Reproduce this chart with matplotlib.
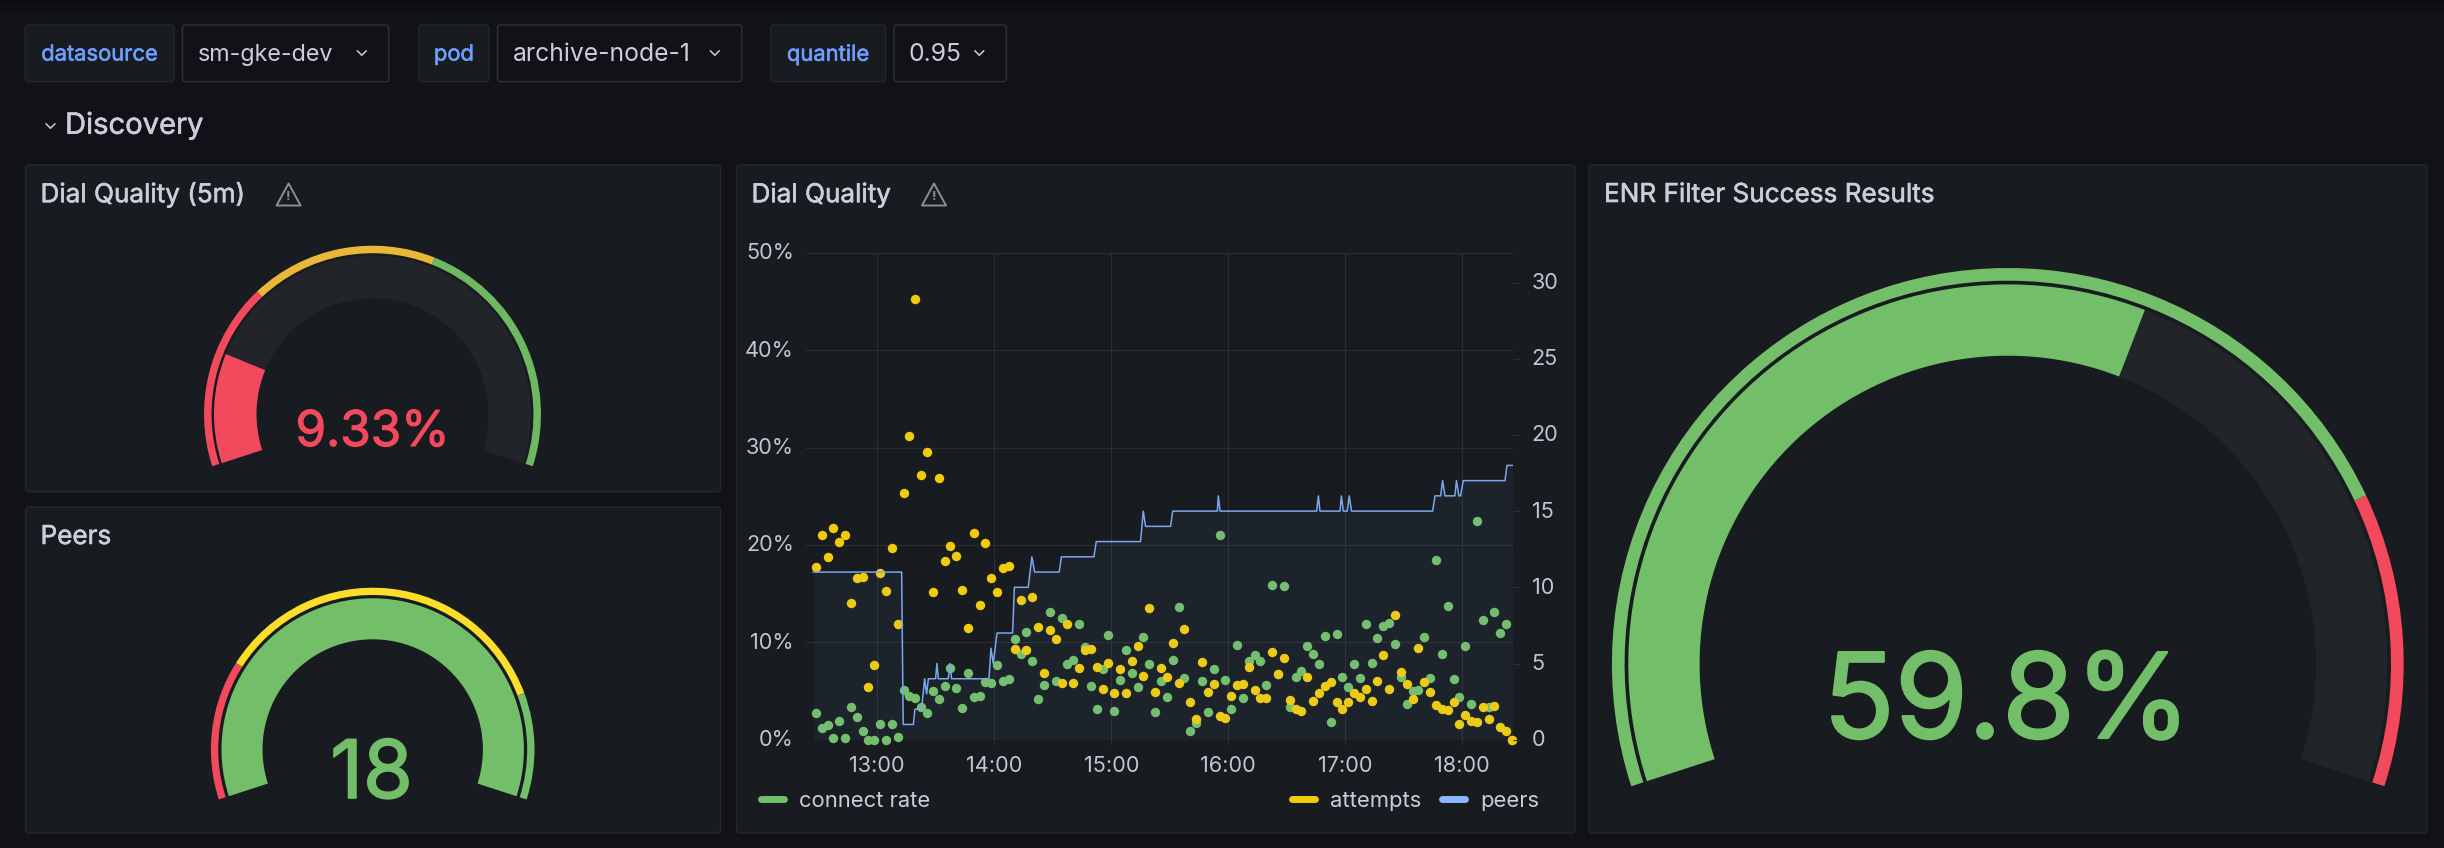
import numpy as np
import matplotlib
matplotlib.use("Agg")
import matplotlib.pyplot as plt
import matplotlib.patheffects as pe
from matplotlib.patches import Wedge, FancyBboxPatch, Polygon
from matplotlib.lines import Line2D
from matplotlib.transforms import ScaledTranslation

W, H = 2444, 848
plt.rcParams['font.family'] = ['Inter', 'DejaVu Sans']

# ---------- data ----------
time_labels = ["13:00", "14:00", "15:00", "16:00", "17:00", "18:00"]
time_ticks = [0, 60, 120, 180, 240, 300]  # minutes after 13:00
left_ticks = [0, 10, 20, 30, 40, 50]
right_ticks = [0, 5, 10, 15, 20, 25, 30]

connect_rate = [2.7, 1.2, 1.5, 0.17, 1.9, 0.17, 3.4, 2.3, 0.9, 0, 0, 1.6, 0, 1.6, 0.27, 5.07, 4.5, 4.25, 3.4, 2.7,
                5.0, 4.15, 5.5, 7.4, 5.3, 3.3, 6.8, 4.35, 4.45, 5.9, 5.8, 7.7, 6.0, 6.2, 10.3, 8.85, 11.1, 8.1, 4.15, 5.6,
                13.1, 6.0, 12.5, 7.8, 8.2, 11.9, 9.55, 5.5, 3.2, 7.3, 10.8, 2.9, 6.1, 9.25, 6.8, 5.4, 10.5, 7.8, 2.8, 6.0,
                4.35, 8.2, 13.6, 6.3, 0.9, 1.7, 6.0, 2.8, 7.3, 21.0, 6.1, 3.13, 9.76, 4.25, 8.1, 8.74, 8.1, 5.6, 15.9, 6.7,
                15.8, 3.33, 6.4, 7.1, 9.66, 8.84, 7.8, 10.6, 1.8, 10.9, 6.4, 5.37, 7.8, 6.3, 11.9, 7.9, 10.4, 11.7, 12.0, 9.86,
                6.4, 3.64, 4.97, 5.07, 10.5, 6.3, 18.5, 8.84, 13.74, 6.2, 4.35, 9.66, 3.64, 22.5, 12.3, 3.33, 13.1, 11.0, 11.9, 0]
attempts = [17.76, 21.0, 18.8, 21.7, 20.3, 21.0, 14.0, 16.6, 16.7, 5.4, 7.7, 17.1, 15.3, 19.7, 11.9, 25.3, 31.2, 45.2, 27.2, 29.5,
            15.2, 26.9, 18.3, 19.9, 18.9, 15.4, 11.5, 21.2, 13.8, 20.2, 16.6, 15.2, 17.6, 17.8, 9.35, 14.35, 9.2, 14.66, 11.6, 6.8,
            11.3, 10.3, 5.8, 11.9, 5.8, 7.4, 9.25, 9.35, 7.5, 5.2, 7.9, 4.8, 7.3, 4.8, 8.1, 9.6, 6.5, 13.5, 4.86, 7.4,
            6.4, 9.97, 5.8, 11.4, 3.84, 2.1, 8.0, 4.86, 5.7, 2.4, 2.2, 4.46, 5.6, 5.7, 7.5, 5.07, 4.25, 4.25, 9.05, 6.7,
            8.4, 4.05, 3.2, 2.9, 6.4, 3.95, 4.76, 5.5, 5.9, 3.84, 3.2, 3.84, 4.76, 4.35, 5.2, 3.95, 6.0, 8.74, 5.2, 12.8,
            7.0, 5.7, 4.15, 9.46, 5.9, 4.86, 3.54, 3.13, 3.03, 3.84, 1.6, 2.5, 1.9, 1.8, 3.33, 2.1, 3.44, 1.3, 0.9, 0]
sample_minutes = np.arange(len(attempts)) * 3 - 31.5

peers_minutes = [-32.8, 12.5, 13.3, 18.5, 19.3, 22.7, 24.3, 25.3, 26.2, 29.9, 30.6, 31.3, 36.4, 37.3, 38.1, 57.3, 58.3, 59.5,
                 61.4, 69.4, 70.3, 77.4, 79.3, 80.7, 93.3, 94.4, 111.1, 112.3, 135, 136.4, 137.6, 150.4, 151.5, 174.4, 174.9,
                 175.8, 225.3, 226.2, 227, 237.3, 238, 239, 241, 242, 243.2, 284.8, 286, 288.9, 289.9, 291.1, 296.2, 297,
                 298.2, 299.1, 300.5, 321.9, 322.9, 325.8]
peers = [11, 11, 1, 1, 2, 2, 4, 3, 4, 4, 5, 4, 4, 5, 4, 4, 6, 5,
         7, 7, 10, 10, 12, 11, 11, 12, 12, 13, 13, 15, 14, 14, 15, 15, 16,
         15, 15, 16, 15, 15, 16, 15, 15, 16, 15, 15, 16, 16, 17, 16, 16, 17,
         16, 16, 17, 17, 18, 18]

dial_value, dial_max = 9.33, 50
dial_steps = [15, 30]
peers_value, peers_max = 18, 18
peers_steps = [4.2, 14.8]
enr_value, enr_max = 59.8, 100
enr_steps = [80]

# ---------- colours ----------
BG = '#111217'
PANEL = '#181b1f'
BORDER = '#24272c'
TEXT = '#ccccdc'
TICK = '#c4c4d2'
GRID = '#2b2e32'
TRACK = '#212429'
GREEN = '#73BF69'
RED = '#F2495C'
ORANGE = '#EAB839'
YELLOW = '#FADE2A'
ATT = '#F2CC0C'
BLUE = '#8AB8FF'
LINK = '#6E9FFF'

fig = plt.figure(figsize=(W / 100, H / 100), dpi=100, facecolor=BG)
bg = fig.add_axes([0, 0, 1, 1], zorder=0)
bg.axis('off')


def Y(y):
    return H - y


def thick(w, c):
    return [pe.withStroke(linewidth=w, foreground=c)]


def box(x0, x1, y0, y1, face, edge, r=3):
    bg.add_patch(FancyBboxPatch((x0, Y(y1)), x1 - x0, y1 - y0, boxstyle=f"round,pad=0,rounding_size={r}",
                                fc=face, ec=edge, lw=1.0))


def chevron(x, y, s=4.5):
    bg.add_line(Line2D([x - s, x, x + s], [Y(y - s / 2), Y(y + s / 2), Y(y - s / 2)], color=TEXT, lw=1.1,
                       solid_capstyle='round', solid_joinstyle='round'))


def warn(x, y):
    w, h = 12, 11
    bg.add_patch(Polygon([[x, Y(y - h)], [x + w, Y(y + h)], [x - w, Y(y + h)]], closed=True, fc='none',
                         ec='#8e8e97', lw=1.4, joinstyle='round'))
    bg.text(x, Y(y + 2), "!", color='#8e8e97', fontsize=9.5, ha='center', va='center', weight='bold')


# top gradient
top = np.linspace(0, 1, 14)[:, None]
bg.imshow(top, extent=(0, W, Y(14), Y(0)), aspect='auto', origin='upper', zorder=0.1,
          cmap=matplotlib.colors.LinearSegmentedColormap.from_list('g', ['#0b0c10', BG]))
bg.set_xlim(0, W)
bg.set_ylim(0, H)

# variable bar
for (x0, x1, txt) in [(25.3, 174, "datasource"), (419, 489, "pod"), (771, 885.6, "quantile")]:
    box(x0, x1, 25, 81.7, PANEL, BORDER)
    bg.text((x0 + x1) / 2, Y(54.5), txt, color=LINK, fontsize=15.8, ha='center', va='center',
            path_effects=thick(0.4, LINK))
for (x0, x1, txt, fs) in [(182.5, 388.8, "sm-gke-dev", 16.8), (497.5, 741.8, "archive-node-1", 17.8),
                          (894, 1006.3, "0.95", 17.8)]:
    box(x0, x1, 25, 81.7, BG, '#2f3136')
    bg.text(x0 + 15, Y(54.5), txt, color=TEXT, fontsize=fs, ha='left', va='center')
    chevron(x1 - 27, 53)
chevron(50.5, 126)
bg.text(65, Y(126), "Discovery", color=TEXT, fontsize=21, ha='left', va='center', path_effects=thick(0.4, TEXT))

# panels
for (x0, x1, y0, y1, title, ty) in [(25.5, 720.5, 165, 491.7, "Dial Quality (5m)", 195),
                                    (25.5, 720.5, 507, 833, "Peers", 537),
                                    (736.5, 1575, 165, 833, "Dial Quality", 195),
                                    (1589, 2427, 165, 833, "ENR Filter Success Results", 195)]:
    box(x0, x1, y0, y1, PANEL, BORDER)
    bg.text(x0 + 15, Y(ty), title, color=TEXT, fontsize=18.8, ha='left', va='center',
            path_effects=thick(0.4, TEXT))
warn(288.6, 194.5)
warn(934, 194.5)

# ---------- gauges ----------
START, SWEEP = 198.0, 216.0


def ang(v, vmax):
    return START - SWEEP * v / vmax


def gauge(cx, cy, r_out, ring, val_out, val_in, value, vmax, steps, colors, val_color, label, fs, tx, ty, stroke):
    c = (cx, Y(cy))
    bg.add_patch(Wedge(c, val_out, ang(vmax, vmax), ang(0, vmax), width=val_out - val_in, fc=TRACK, ec='none'))
    bg.add_patch(Wedge(c, val_out, ang(value, vmax), ang(0, vmax), width=val_out - val_in, fc=val_color, ec='none'))
    edges = [0] + steps + [vmax]
    for a, b, col in zip(edges[:-1], edges[1:], colors):
        bg.add_patch(Wedge(c, r_out, ang(b, vmax), ang(a, vmax), width=ring, fc=col, ec='none'))
    bg.text(tx, Y(ty), label, color=val_color, fontsize=fs, ha='center', va='center',
            path_effects=thick(stroke, val_color))


gauge(372.5, 414.2, 168.5, 7.5, 158.5, 116, dial_value, dial_max, dial_steps, [RED, ORANGE, '#6DB861'], RED,
      "9.33%", 35.5, 372.5, 433, 0.8)
gauge(372.7, 749.5, 161.8, 7.3, 151.2, 110.2, peers_value, peers_max, peers_steps, [RED, YELLOW, GREEN], GREEN,
      "18", 58, 371.5, 777, 1.2)
gauge(2007.8, 663.9, 395.9, 12.7, 379.5, 308.2, enr_value, enr_max, enr_steps, [GREEN, RED], GREEN,
      "59.8%", 85, 2007, 707, 1.6)

# ---------- time series ----------
pl, pr, pt, pb = 805.7, 1513, 252.7, 739.7
ax = fig.add_axes([pl / W, 1 - pb / H, (pr - pl) / W, (pb - pt) / H], zorder=2)
ax.patch.set_alpha(0)
ax.set_xlim(-36.7, 326.0)
ax.set_ylim(0, 50)
ax.set_xticks(time_ticks)
ax.set_xticklabels(time_labels)
ax.set_yticks(left_ticks)
ax.set_yticklabels([f"{v}%" for v in left_ticks])
ax.grid(True, color=GRID, lw=0.8)
ax.set_axisbelow(True)
for s in ax.spines.values():
    s.set_visible(False)
ax.tick_params(axis='x', colors=TICK, labelsize=15.6, length=3.5, width=0.8, color=GRID, pad=8)
ax.tick_params(axis='y', colors=TICK, labelsize=15.6, length=0, pad=8.5)

ax.scatter(sample_minutes, connect_rate, s=46, color=GREEN, linewidths=0, clip_on=False, zorder=3)
ax.scatter(sample_minutes, attempts, s=46, color=ATT, linewidths=0, clip_on=False, zorder=4)

ax2 = ax.twinx()
ax2.patch.set_alpha(0)
ax2.set_ylim(0, (pb - pt) / 15.24)
ax2.set_yticks(right_ticks)
for s in ax2.spines.values():
    s.set_visible(False)
ax2.tick_params(axis='y', colors=TICK, labelsize=15.6, length=5, width=0.8, color=GRID, pad=8.5)
ax2.fill_between(peers_minutes, peers, 0, color=BLUE, alpha=0.05, lw=0)
ax2.plot(peers_minutes, peers, color='#7aa8ee', lw=1.1, solid_joinstyle='round')

up = ScaledTranslation(0, 1.5 / 100, fig.dpi_scale_trans)
for lab in list(ax.get_yticklabels()) + list(ax2.get_yticklabels()):
    lab.set_transform(lab.get_transform() + up)


# legends
def swatch(c):
    return Line2D([0], [0], color=c, lw=5, solid_capstyle='round')


leg_kw = dict(frameon=False, fontsize=15.8, labelcolor=TEXT, handlelength=1.05, handletextpad=0.7,
              borderpad=0, borderaxespad=0, bbox_transform=fig.transFigure)
l1 = fig.legend([swatch(GREEN)], ["connect rate"], loc='center left', bbox_to_anchor=(761 / W, 1 - 801 / H), **leg_kw)
l2 = fig.legend([swatch(ATT), swatch(BLUE)], ["attempts", "peers"], loc='center right', ncol=2, columnspacing=0.95,
                bbox_to_anchor=(1539.5 / W, 1 - 801 / H), **leg_kw)

fig.savefig("out.png", dpi=100, facecolor=BG)
